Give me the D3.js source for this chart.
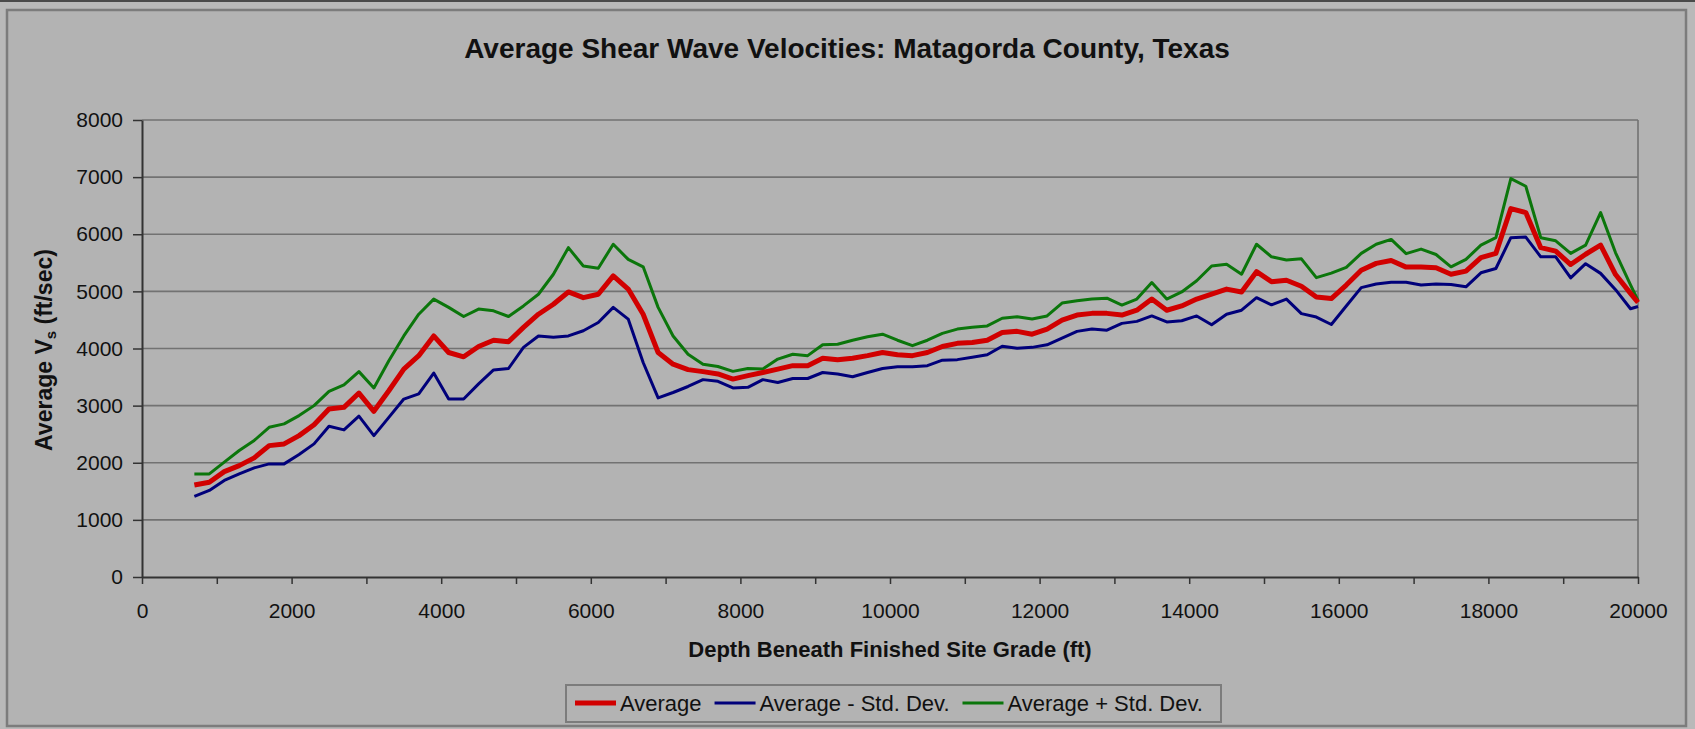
<!DOCTYPE html>
<html>
<head>
<meta charset="utf-8">
<script src="https://cdn.jsdelivr.net/npm/d3@7"></script>
<style>
  html, body { margin: 0; padding: 0; background: #b9b9b9; }
  svg { display: block; font-family: "Liberation Sans", Arial, sans-serif; }
</style>
</head>
<body>
<div id="chart"></div>
<script>
// Chart data (depth in ft, velocities in ft/sec)
var depths = [
    700, 900, 1100, 1300, 1500, 1700, 1900, 2100, 2300, 2500,
    2700, 2900, 3100, 3300, 3500, 3700, 3900, 4100, 4300, 4500,
    4700, 4900, 5100, 5300, 5500, 5700, 5900, 6100, 6300, 6500,
    6700, 6900, 7100, 7300, 7500, 7700, 7900, 8100, 8300, 8500,
    8700, 8900, 9100, 9300, 9500, 9700, 9900, 10100, 10300, 10500,
    10700, 10900, 11100, 11300, 11500, 11700, 11900, 12100, 12300, 12500,
    12700, 12900, 13100, 13300, 13500, 13700, 13900, 14100, 14300, 14500,
    14700, 14900, 15100, 15300, 15500, 15700, 15900, 16100, 16300, 16500,
    16700, 16900, 17100, 17300, 17500, 17700, 17900, 18100, 18300, 18500,
    18700, 18900, 19100, 19300, 19500, 19700, 19900, 20000
];

var average = [
    1610, 1660, 1845, 1950, 2085, 2300, 2330, 2475, 2665, 2940,
    2970, 3220, 2900, 3260, 3640, 3875, 4220, 3930, 3855, 4035,
    4145, 4120, 4370, 4600, 4775, 4990, 4890, 4950, 5270, 5040,
    4600, 3930, 3725, 3630, 3595, 3555, 3465, 3525, 3580, 3640,
    3700, 3700, 3830, 3805, 3830, 3875, 3930, 3890, 3875, 3930,
    4035, 4090, 4105, 4145, 4280, 4300, 4250, 4340, 4495, 4585,
    4615, 4615, 4585, 4670, 4865, 4670, 4745, 4865, 4950, 5040,
    4990, 5345, 5170, 5195, 5090, 4900, 4875, 5110, 5370, 5490,
    5540, 5425, 5425, 5415, 5300, 5355, 5590, 5665, 6450, 6380,
    5765, 5705, 5470, 5650, 5810, 5295, 4965, 4805
];

var averageMinusStd = [
    1410, 1515, 1690, 1805, 1910, 1980, 1980, 2145, 2330, 2640,
    2575, 2815, 2475, 2795, 3115, 3205, 3570, 3115, 3115, 3380,
    3625, 3650, 4020, 4220, 4195, 4220, 4310, 4455, 4720, 4515,
    3755, 3135, 3230, 3335, 3455, 3425, 3310, 3320, 3455, 3405,
    3475, 3475, 3580, 3555, 3505, 3580, 3650, 3680, 3680, 3700,
    3795, 3805, 3845, 3890, 4040, 4005, 4020, 4065, 4180, 4300,
    4340, 4320, 4440, 4475, 4570, 4465, 4485, 4570, 4415, 4600,
    4670, 4890, 4765, 4865, 4610, 4550, 4420, 4745, 5065, 5130,
    5160, 5160, 5110, 5130, 5120, 5080, 5325, 5400, 5940, 5950,
    5605, 5605, 5235, 5485, 5315, 5030, 4695, 4735
];

var averagePlusStd = [
    1805, 1805, 2010, 2215, 2390, 2620, 2680, 2825, 3000, 3250,
    3365, 3595, 3310, 3785, 4220, 4600, 4865, 4720, 4560, 4690,
    4660, 4560, 4745, 4950, 5300, 5765, 5445, 5405, 5825, 5560,
    5430, 4720, 4220, 3900, 3725, 3685, 3600, 3650, 3640, 3815,
    3900, 3875, 4065, 4075, 4145, 4205, 4250, 4145, 4050, 4145,
    4265, 4340, 4370, 4395, 4530, 4555, 4515, 4570, 4795, 4835,
    4865, 4880, 4760, 4865, 5155, 4865, 4990, 5185, 5445, 5475,
    5300, 5825, 5605, 5550, 5570, 5240, 5320, 5420, 5665, 5825,
    5910, 5660, 5740, 5645, 5430, 5560, 5810, 5940, 6975, 6840,
    5940, 5885, 5665, 5810, 6380, 5675, 5115, 4840
];

var xTicks = [0, 2000, 4000, 6000, 8000, 10000, 12000, 14000, 16000, 18000, 20000];
var xMinorTicks = [1000, 3000, 5000, 7000, 9000, 11000, 13000, 15000, 17000, 19000];
var yTicks = [0, 1000, 2000, 3000, 4000, 5000, 6000, 7000, 8000];

var seriesNames = ["Average", "Average - Std. Dev.", "Average + Std. Dev."];
var seriesColors = ["#d10000", "#00007a", "#0b760b"];

// Size of the page and the plot area
var width = 1695;
var height = 729;
var plot = { left: 142, right: 1638, top: 120, bottom: 577 };

var svg;

// Function to create an SVG container
function createSVG(width, height) {
    return d3.select("#chart")
        .append("svg")
        .attr("width", width)
        .attr("height", height);
}

// Outer frame of the chart
function drawFrame(svg) {
    svg.append("rect")
        .attr("x", 0).attr("y", 0)
        .attr("width", width).attr("height", height)
        .attr("fill", "#b9b9b9");

    svg.append("line")
        .attr("x1", 0).attr("x2", width)
        .attr("y1", 1).attr("y2", 1)
        .attr("stroke", "#4a4a4a")
        .attr("stroke-width", 2);

    svg.append("rect")
        .attr("x", 7).attr("y", 10)
        .attr("width", 1679).attr("height", 716)
        .attr("fill", "#b3b3b3")
        .attr("stroke", "#7c7c7c")
        .attr("stroke-width", 2.5);
}

// Gridlines, axes and tick labels
function drawAxes(svg, x, y) {
    svg.append("g")
        .selectAll("line")
        .data(yTicks.filter(function(d) { return d > 0; }))
        .enter()
        .append("line")
        .attr("x1", plot.left).attr("x2", plot.right)
        .attr("y1", function(d) { return y(d); })
        .attr("y2", function(d) { return y(d); })
        .attr("stroke", "#727272")
        .attr("stroke-width", 1.6);

    // right border of the plot area
    svg.append("line")
        .attr("x1", plot.right).attr("x2", plot.right)
        .attr("y1", plot.top).attr("y2", plot.bottom)
        .attr("stroke", "#727272")
        .attr("stroke-width", 1.6);

    var yAxis = svg.append("g")
        .attr("transform", "translate(" + plot.left + ",0)")
        .call(d3.axisLeft(y).tickValues(yTicks).tickSize(9).tickSizeOuter(0).tickPadding(10)
            .tickFormat(d3.format("d")));

    var xAxis = svg.append("g")
        .attr("transform", "translate(0," + plot.bottom + ")")
        .call(d3.axisBottom(x).tickValues(xTicks.concat(xMinorTicks)).tickSize(7).tickSizeOuter(0).tickPadding(19)
            .tickFormat(function(d) { return xTicks.indexOf(d) >= 0 ? d : ""; }));

    [xAxis, yAxis].forEach(function(axis) {
        axis.select(".domain").attr("stroke", "#333").attr("stroke-width", 2);
        axis.selectAll(".tick line").attr("stroke", "#333").attr("stroke-width", 1.5);
        axis.selectAll(".tick text")
            .attr("fill", "#111")
            .style("font-size", "21px")
            .style("font-family", "'Liberation Sans', Arial, sans-serif");
    });
}

// Title and axis titles
function drawTitles(svg) {
    svg.append("text")
        .attr("x", 847).attr("y", 58)
        .attr("text-anchor", "middle")
        .attr("fill", "#111")
        .style("font-size", "28px")
        .style("font-weight", "bold")
        .text("Average Shear Wave Velocities: Matagorda County, Texas");

    svg.append("text")
        .attr("x", 890).attr("y", 657)
        .attr("text-anchor", "middle")
        .attr("fill", "#111")
        .style("font-size", "22px")
        .style("font-weight", "bold")
        .text("Depth Beneath Finished Site Grade (ft)");

    var yTitle = svg.append("text")
        .attr("transform", "translate(52,350) rotate(-90)")
        .attr("text-anchor", "middle")
        .attr("fill", "#111")
        .style("font-size", "23px")
        .style("font-weight", "bold");
    yTitle.append("tspan").text("Average V");
    yTitle.append("tspan").attr("dy", 4).style("font-size", "15px").text("s");
    yTitle.append("tspan").attr("dy", -4).text(" (ft/sec)");
}

// Function to draw the three series as lines
function drawLines(svg, x, y) {
    var allSeries = [average, averageMinusStd, averagePlusStd];
    var widths = [5, 3, 3];
    var order = [2, 1, 0]; // draw the average on top

    var line = d3.line()
        .x(function(d, i) { return x(depths[i]); })
        .y(function(d) { return y(d); });

    order.forEach(function(k) {
        svg.append("path")
            .datum(allSeries[k])
            .attr("d", line)
            .attr("fill", "none")
            .attr("stroke", seriesColors[k])
            .attr("stroke-width", widths[k])
            .attr("stroke-linejoin", "round");
    });
}

// Function to create the legend box under the chart
function createLegend(svg) {
    var legend = svg.append("g");
    var box = legend.append("rect")
        .attr("x", 566).attr("y", 685)
        .attr("width", 655).attr("height", 37)
        .attr("fill", "#b3b3b3")
        .attr("stroke", "#7c7c7c")
        .attr("stroke-width", 2);

    var cx = 575;
    var widths = [5, 3, 3];
    seriesNames.forEach(function(name, i) {
        legend.append("line")
            .attr("x1", cx).attr("x2", cx + 41)
            .attr("y1", 703).attr("y2", 703)
            .attr("stroke", seriesColors[i])
            .attr("stroke-width", widths[i]);
        var t = legend.append("text")
            .attr("x", cx + 45).attr("y", 711)
            .attr("fill", "#111")
            .style("font-size", "22px")
            .text(name);
        cx = cx + 45 + t.node().getComputedTextLength() + 13;
    });
}

// Main function to build the chart
function main() {
    svg = createSVG(width, height);

    var x = d3.scaleLinear().domain([0, 20000]).range([plot.left, plot.right]);
    var y = d3.scaleLinear().domain([0, 8000]).range([plot.bottom, plot.top]);

    drawFrame(svg);
    drawAxes(svg, x, y);
    drawLines(svg, x, y);
    drawTitles(svg);
    createLegend(svg);
}

window.onload = function() {
    main();
};
</script>
</body>
</html>
